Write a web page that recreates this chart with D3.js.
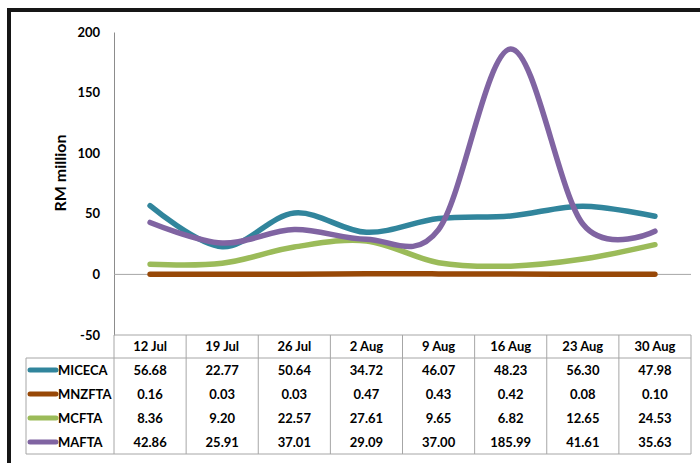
<!DOCTYPE html>
<html>
<head>
<meta charset="utf-8">
<script src="https://cdn.jsdelivr.net/npm/d3@7"></script>
<style>
  html, body { margin: 0; padding: 0; background: #fff; }
  svg { display: block; }
  text { font-family: Lato, "Open Sans", sans-serif; font-weight: bold; fill: #000; }
</style>
</head>
<body>
<svg id="chart" width="700" height="463"></svg>
<script>
// Weekly trade values (RM million) by agreement
const weeks = ["12 Jul", "19 Jul", "26 Jul", "2 Aug", "9 Aug", "16 Aug", "23 Aug", "30 Aug"];
const seriesNames = ["MICECA", "MNZFTA", "MCFTA", "MAFTA"];
const miceca = [56.68, 22.77, 50.64, 34.72, 46.07, 48.23, 56.30, 47.98];
const mnzfta = [0.16, 0.03, 0.03, 0.47, 0.43, 0.42, 0.08, 0.10];
const mcfta  = [8.36, 9.20, 22.57, 27.61, 9.65, 6.82, 12.65, 24.53];
const mafta  = [42.86, 25.91, 37.01, 29.09, 37.00, 185.99, 41.61, 35.63];
const yTicks = [-50, 0, 50, 100, 150, 200];
const colors = ["#31859c", "#984807", "#9bbb59", "#8064a2"];

const series = [miceca, mnzfta, mcfta, mafta].map((values, i) => ({
  name: seriesNames[i], values, color: colors[i]
}));

const svg = d3.select("#chart");

const plotLeft = 114, plotRight = 691, plotTop = 32, plotBottom = 335;
const headerBottom = 358, rowH = 24, tableLeft = 26;

const x = d3.scaleBand().domain(weeks).range([plotLeft, plotRight]);
const y = d3.scaleLinear().domain([-50, 200]).range([plotBottom, plotTop]);

// Outer frame (top and left edges visible)
svg.append("rect")
  .attr("x", 9).attr("y", 10)
  .attr("width", 720).attr("height", 480)
  .attr("fill", "none")
  .attr("stroke", "#161616")
  .attr("stroke-width", 4);

// Value axis
const yAxis = d3.axisLeft(y).tickValues(yTicks).tickSize(0).tickPadding(14)
  .tickFormat(d => String(d));
const gy = svg.append("g").attr("transform", `translate(${plotLeft},0)`).call(yAxis);
gy.select(".domain").attr("stroke", "#8c8c8c").attr("stroke-width", 1);
gy.selectAll(".tick text")
  .style("font-family", "Lato, sans-serif")
  .style("font-weight", "bold")
  .style("font-size", "13px")
  .attr("fill", "#000");

// Zero line
svg.append("line")
  .attr("x1", plotLeft).attr("x2", plotRight)
  .attr("y1", y(0)).attr("y2", y(0))
  .attr("stroke", "#a6a6a6").attr("stroke-width", 1);

// Axis title
svg.append("text")
  .attr("transform", `translate(66,173) rotate(-90)`)
  .attr("text-anchor", "middle")
  .style("font-size", "16px")
  .text("RM million");

// Smoothed series lines
const line = d3.line()
  .x((d, i) => x(weeks[i]) + x.bandwidth() / 2)
  .y(d => y(d))
  .curve(d3.curveCatmullRom.alpha(0));

svg.append("g").selectAll("path")
  .data(series)
  .join("path")
  .attr("d", d => line(d.values))
  .attr("fill", "none")
  .attr("stroke", d => d.color)
  .attr("stroke-width", 5.5)
  .attr("stroke-linecap", "round")
  .attr("stroke-linejoin", "round");

// Data table
const grid = svg.append("g").attr("stroke", "#a6a6a6").attr("stroke-width", 1).attr("fill", "none");
const tableBottom = headerBottom + rowH * series.length;

// horizontal rules
grid.append("line").attr("x1", plotLeft).attr("x2", plotRight).attr("y1", plotBottom).attr("y2", plotBottom);
grid.append("line").attr("x1", tableLeft).attr("x2", plotRight).attr("y1", headerBottom).attr("y2", headerBottom);
grid.append("line").attr("x1", tableLeft).attr("x2", plotRight).attr("y1", tableBottom).attr("y2", tableBottom);
// vertical rules
grid.append("line").attr("x1", tableLeft).attr("x2", tableLeft).attr("y1", headerBottom).attr("y2", tableBottom);
grid.selectAll(".col")
  .data(weeks.concat([null]))
  .join("line")
  .attr("x1", d => d ? x(d) : plotRight)
  .attr("x2", d => d ? x(d) : plotRight)
  .attr("y1", plotBottom).attr("y2", tableBottom);

// header labels
svg.append("g").selectAll("text")
  .data(weeks)
  .join("text")
  .attr("x", d => x(d) + x.bandwidth() / 2)
  .attr("y", (plotBottom + headerBottom) / 2)
  .attr("dy", "0.36em")
  .attr("text-anchor", "middle")
  .style("font-size", "13px")
  .text(d => d);

// rows
const rows = svg.append("g").selectAll("g")
  .data(series)
  .join("g")
  .attr("transform", (d, i) => `translate(0,${headerBottom + rowH * i + rowH / 2})`);

rows.append("line")
  .attr("x1", 30).attr("x2", 56)
  .attr("y1", 0).attr("y2", 0)
  .attr("stroke", d => d.color)
  .attr("stroke-width", 5)
  .attr("stroke-linecap", "round");

rows.append("text")
  .attr("x", 58).attr("dy", "0.36em")
  .style("font-size", "13px")
  .text(d => d.name);

rows.selectAll(".val")
  .data(d => d.values)
  .join("text")
  .attr("class", "val")
  .attr("x", (v, i) => x(weeks[i]) + x.bandwidth() / 2)
  .attr("dy", "0.36em")
  .attr("text-anchor", "middle")
  .style("font-size", "13px")
  .text(v => v.toFixed(2));
</script>
</body>
</html>
